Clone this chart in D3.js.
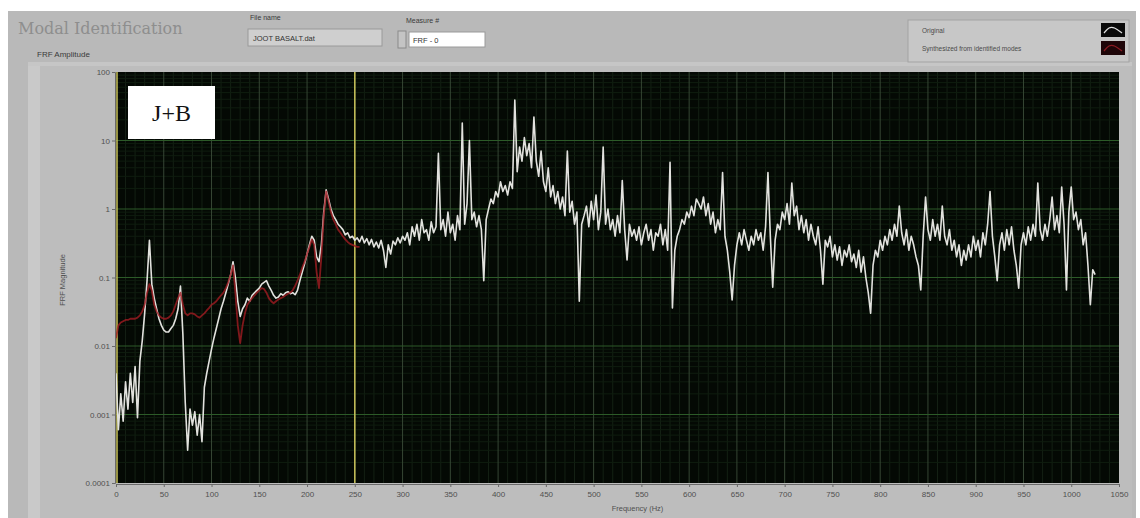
<!DOCTYPE html>
<html>
<head>
<meta charset="utf-8">
<script src="https://cdn.jsdelivr.net/npm/d3@7"></script>
<style>
  html, body { margin: 0; padding: 0; background: #ffffff; }
  svg { display: block; font-family: "Liberation Sans", Arial, sans-serif; }
</style>
</head>
<body>
<svg id="chart" width="1140" height="518"></svg>
<script>
// Frequency sampling of both FRF curves (Hz)
const freqStart = 0;
const freqStep = 2.5;

// Measured FRF magnitude ("Original"), one row per 25 Hz
const originalMag = [
  0.004,0.0006,0.002,0.0008,0.003,0.0012,0.004,0.0015,0.005,0.0009,
  0.006,0.012,0.03,0.09,0.35,0.08,0.05,0.035,0.025,0.02,
  0.017,0.016,0.016,0.018,0.02,0.025,0.035,0.075,0.015,0.0015,
  0.0003,0.0012,0.0007,0.0011,0.0005,0.001,0.0004,0.0025,0.004,0.006,
  0.009,0.013,0.018,0.025,0.035,0.045,0.06,0.08,0.11,0.17,
  0.1,0.045,0.027,0.035,0.04,0.05,0.045,0.055,0.06,0.065,
  0.07,0.08,0.085,0.09,0.075,0.065,0.055,0.05,0.052,0.058,
  0.055,0.06,0.062,0.058,0.06,0.056,0.065,0.09,0.12,0.16,
  0.22,0.3,0.4,0.35,0.2,0.17,0.3,0.9,1.9,1.4,
  1.0,0.8,0.7,0.6,0.55,0.5,0.42,0.45,0.38,0.4,
  0.35,0.38,0.33,0.4,0.32,0.37,0.3,0.36,0.28,0.33,
  0.27,0.35,0.25,0.14,0.3,0.22,0.34,0.3,0.38,0.32,
  0.4,0.35,0.45,0.3,0.55,0.4,0.6,0.35,0.7,0.45,
  0.5,0.35,0.65,0.45,0.55,6.5,0.5,0.7,0.4,0.9,
  0.45,0.6,0.35,0.8,0.5,18,0.6,1.2,10,0.7,
  0.9,0.55,0.8,0.5,0.09,0.7,1.0,1.4,1.2,1.8,
  1.5,2.5,1.8,2.2,1.6,2.5,2.0,39,3.5,8,
  5,11,6,9,4,22,5,3,7,2.5,
  1.8,4,1.5,2.2,1.2,1.8,1.0,1.5,0.8,7,
  0.9,1.3,0.6,0.9,0.045,0.6,0.8,1.1,0.55,1.3,
  0.7,1.6,0.5,0.9,8,0.6,1.0,0.5,0.7,0.4,
  0.8,0.45,2.6,0.5,0.18,0.6,0.4,0.5,0.35,0.55,
  0.3,0.45,0.6,0.35,0.5,0.25,0.45,0.4,0.6,0.3,
  0.5,0.25,4.8,0.036,0.25,0.4,0.5,0.7,0.6,0.9,
  0.75,1.1,0.8,1.4,1.2,1.0,1.5,0.8,1.2,0.6,
  0.9,0.45,0.7,0.5,3.4,0.4,0.25,0.12,0.047,0.15,
  0.3,0.45,0.3,0.5,0.35,0.25,0.4,0.3,0.5,0.35,
  0.45,0.25,0.55,3.4,0.4,0.072,0.35,0.6,0.5,0.9,
  0.7,1.2,0.6,2.4,0.8,1.1,0.5,0.8,0.45,0.7,
  0.35,0.6,0.4,0.3,0.55,0.25,0.08,0.35,0.28,0.4,
  0.2,0.3,0.18,0.28,0.15,0.25,0.2,0.3,0.17,0.22,
  0.14,0.25,0.12,0.2,0.1,0.06,0.03,0.15,0.25,0.2,
  0.35,0.25,0.4,0.3,0.5,0.35,0.6,0.4,1.1,0.45,
  0.3,0.5,0.25,0.4,0.3,0.2,0.15,0.066,0.4,1.5,
  0.5,0.35,0.7,0.4,0.6,0.35,1.1,0.4,0.3,0.5,
  0.25,0.35,0.2,0.3,0.15,0.25,0.18,0.3,0.2,0.4,
  0.25,0.35,0.2,0.45,0.3,0.6,1.8,0.4,0.2,0.09,
  0.3,0.45,0.25,0.5,0.3,0.55,0.25,0.15,0.07,0.3,
  0.45,0.3,0.55,0.35,0.6,0.4,2.4,0.5,0.35,0.6,
  0.4,0.7,1.5,0.5,0.8,0.45,2.1,0.6,0.066,0.9,
  2.1,0.7,0.9,0.5,0.7,0.3,0.45,0.15,0.04,0.13,
  0.11
];

// FRF synthesized from the identified modes (0–255 Hz)
const synthesizedMag = [
  0.013,0.02,0.022,0.023,0.024,0.024,0.025,0.025,0.025,0.026,
  0.028,0.032,0.04,0.06,0.08,0.065,0.04,0.032,0.028,0.026,
  0.025,0.025,0.026,0.028,0.032,0.04,0.05,0.06,0.04,0.03,
  0.028,0.03,0.03,0.029,0.027,0.026,0.028,0.03,0.033,0.036,
  0.04,0.042,0.045,0.05,0.055,0.06,0.07,0.085,0.11,0.15,
  0.06,0.02,0.011,0.02,0.03,0.04,0.045,0.05,0.055,0.06,
  0.065,0.07,0.068,0.06,0.05,0.045,0.042,0.045,0.048,0.05,
  0.052,0.055,0.058,0.06,0.065,0.075,0.09,0.11,0.14,0.17,
  0.22,0.28,0.36,0.3,0.12,0.07,0.2,0.8,1.8,1.3,
  0.9,0.7,0.6,0.5,0.45,0.4,0.36,0.33,0.31,0.3,
  0.29,0.28,0.28
];

// Axis ticks
const xTicks = [0,50,100,150,200,250,300,350,400,450,500,550,600,650,700,750,800,850,900,950,1000,1050];
const yTicks = [0.0001,0.001,0.01,0.1,1,10,100];
const yTickLabels = ["0.0001","0.001","0.01","0.1","1","10","100"];
const cursorFreqs = [0, 250];

const legendItems = ["Original", "Synthesized from identified modes"];

const svg = d3.select("#chart");

// ---------- front panel ----------
svg.append("rect").attr("x", 0).attr("y", 0).attr("width", 1140).attr("height", 518).attr("fill", "#ffffff");
svg.append("rect").attr("x", 8).attr("y", 11).attr("width", 1128).attr("height", 507).attr("fill", "#b9b9b9");
svg.append("rect").attr("x", 28).attr("y", 62).attr("width", 1104).attr("height", 456).attr("fill", "#bdbdbd");
svg.append("rect").attr("x", 28).attr("y", 62).attr("width", 12).attr("height", 456).attr("fill", "#c9c9c9");
svg.append("rect").attr("x", 28).attr("y", 62).attr("width", 1104).attr("height", 4).attr("fill", "#c6c6c6");

svg.append("text").attr("x", 18).attr("y", 34)
  .attr("font-size", 18).attr("fill", "#8e8e8e")
  .style("font-family", "'DejaVu Serif', 'Liberation Serif', serif")
  .style("font-size", "16px")
  .text("Modal Identification");
svg.append("text").attr("x", 37).attr("y", 57)
  .attr("font-size", 8).attr("fill", "#3a3a3a")
  .text("FRF Amplitude");

// File name control
svg.append("text").attr("x", 250).attr("y", 20).attr("font-size", 7).attr("fill", "#3a3a3a").text("File name");
svg.append("rect").attr("x", 248).attr("y", 29).attr("width", 134).attr("height", 17)
  .attr("fill", "#cfcfcf").attr("stroke", "#9a9a9a");
svg.append("text").attr("x", 253).attr("y", 41).attr("font-size", 7.5).attr("fill", "#333").text("JOOT BASALT.dat");

// Measure # control
svg.append("text").attr("x", 406).attr("y", 23).attr("font-size", 7).attr("fill", "#3a3a3a").text("Measure #");
svg.append("rect").attr("x", 398).attr("y", 31).attr("width", 8).attr("height", 17)
  .attr("fill", "#c4c4c4").attr("stroke", "#8a8a8a");
svg.append("rect").attr("x", 409).attr("y", 32).attr("width", 76).attr("height", 15)
  .attr("fill", "#ffffff").attr("stroke", "#9a9a9a");
svg.append("text").attr("x", 413).attr("y", 43).attr("font-size", 7.5).attr("fill", "#333").text("FRF - 0");

// Legend
svg.append("rect").attr("x", 908).attr("y", 20).attr("width", 221).attr("height", 42)
  .attr("fill", "#c7c7c7").attr("stroke", "#a3a3a3");
const legend = svg.append("g");
legend.selectAll("text").data(legendItems).join("text")
  .attr("x", 922).attr("y", (d, i) => 33 + i * 18)
  .attr("font-size", 6.5).attr("fill", "#4a4a4a").text(d => d);
legend.selectAll("rect").data(legendItems).join("rect")
  .attr("x", 1101).attr("y", (d, i) => 23 + i * 18).attr("width", 24).attr("height", 14)
  .attr("fill", (d, i) => i === 0 ? "#0a0a0a" : "#1e0508");
const swatchLine = d3.line().curve(d3.curveBasis);
legendItems.forEach((d, i) => {
  legend.append("path")
    .attr("d", swatchLine([[1104, 33 + i * 18], [1109, 27 + i * 18], [1114, 27 + i * 18], [1122, 33 + i * 18]]))
    .attr("fill", "none")
    .attr("stroke", i === 0 ? "#e0e0e0" : "#8a1a22").attr("stroke-width", 1.2);
});

// ---------- plot ----------
const plot = { left: 116, right: 1119, top: 72, bottom: 483 };
const x = d3.scaleLinear().domain([0, 1050]).range([plot.left, plot.right]);
const y = d3.scaleLog().domain([0.0001, 100]).range([plot.bottom, plot.top]);

svg.append("rect").attr("x", plot.left).attr("y", plot.top)
  .attr("width", plot.right - plot.left).attr("height", plot.bottom - plot.top)
  .attr("fill", "#040904");

const grid = svg.append("g");
// minor vertical grid every 10 Hz
grid.selectAll("line.vminor").data(d3.range(10, 1050, 10).filter(f => f % 50 !== 0)).join("line")
  .attr("class", "vminor")
  .attr("x1", d => x(d)).attr("x2", d => x(d)).attr("y1", plot.top).attr("y2", plot.bottom)
  .attr("stroke", "#142014").attr("stroke-width", 1);
// minor horizontal grid (2..9 within each decade)
const minorY = [];
yTicks.slice(0, -1).forEach(t => { for (let k = 2; k <= 9; k++) minorY.push(t * k); });
grid.selectAll("line.hminor").data(minorY).join("line")
  .attr("class", "hminor")
  .attr("x1", plot.left).attr("x2", plot.right).attr("y1", d => y(d)).attr("y2", d => y(d))
  .attr("stroke", "#0f1d0f").attr("stroke-width", 1);
// major grid
grid.selectAll("line.vmajor").data(xTicks.slice(1, -1)).join("line")
  .attr("class", "vmajor")
  .attr("x1", d => x(d)).attr("x2", d => x(d)).attr("y1", plot.top).attr("y2", plot.bottom)
  .attr("stroke", "#364634").attr("stroke-width", 1);
grid.selectAll("line.hmajor").data(yTicks.slice(1, -1)).join("line")
  .attr("class", "hmajor")
  .attr("x1", plot.left).attr("x2", plot.right).attr("y1", d => y(d)).attr("y2", d => y(d))
  .attr("stroke", "#2c5a28").attr("stroke-width", 1.2);

// cursors
svg.selectAll("line.cursor").data(cursorFreqs).join("line")
  .attr("class", "cursor")
  .attr("x1", d => x(d) + (d === 0 ? 1 : 0)).attr("x2", d => x(d) + (d === 0 ? 1 : 0))
  .attr("y1", plot.top).attr("y2", plot.bottom)
  .attr("stroke", "#c9c25a").attr("stroke-width", 1.5);

// curves
svg.append("clipPath").attr("id", "plotclip")
  .append("rect").attr("x", plot.left).attr("y", plot.top)
  .attr("width", plot.right - plot.left).attr("height", plot.bottom - plot.top);

const line = d3.line()
  .x((d, i) => x(freqStart + i * freqStep))
  .y(d => y(d));

const curves = svg.append("g").attr("clip-path", "url(#plotclip)");
curves.append("path").datum(originalMag)
  .attr("d", line).attr("fill", "none")
  .attr("stroke", "#e2e2de").attr("stroke-width", 1.6).attr("stroke-linejoin", "round");
curves.append("path").datum(synthesizedMag)
  .attr("d", line).attr("fill", "none")
  .attr("stroke", "#a01c22").attr("stroke-width", 1.8).attr("stroke-opacity", 0.8)
  .attr("stroke-linejoin", "round");

// axes
const yAxis = d3.axisLeft(y).tickValues(yTicks)
  .tickFormat((d, i) => yTickLabels[i]).tickSize(3).tickPadding(2);
const gy = svg.append("g").attr("transform", `translate(${plot.left - 1},0)`).call(yAxis);
const xAxis = d3.axisBottom(x).tickValues(xTicks).tickFormat(d3.format("d")).tickSize(3).tickPadding(4);
const gx = svg.append("g").attr("transform", `translate(0,${plot.bottom + 1})`).call(xAxis);
[gx, gy].forEach(g => {
  g.attr("font-family", null);
  g.select(".domain").attr("stroke", "#6a6a6a");
  g.selectAll(".tick line").attr("stroke", "#6a6a6a");
  g.selectAll(".tick text").attr("fill", "#505050").attr("font-size", 8);
});

svg.append("text").attr("x", (plot.left + plot.right) / 2 + 20).attr("y", 511)
  .attr("text-anchor", "middle").attr("font-size", 7.5).attr("fill", "#505050")
  .text("Frequency (Hz)");
svg.append("text").attr("transform", "translate(65,280) rotate(-90)")
  .attr("text-anchor", "middle").attr("font-size", 7.5).attr("fill", "#505050")
  .text("FRF Magnitude");

// annotation box
svg.append("rect").attr("x", 128).attr("y", 86).attr("width", 87).attr("height", 53).attr("fill", "#ffffff");
svg.append("text").attr("x", 171.5).attr("y", 121).attr("text-anchor", "middle")
  .style("font-family", "'Liberation Serif', 'Times New Roman', serif").style("font-size", "24px")
  .attr("fill", "#111")
  .text("J+B");
</script>
</body>
</html>
